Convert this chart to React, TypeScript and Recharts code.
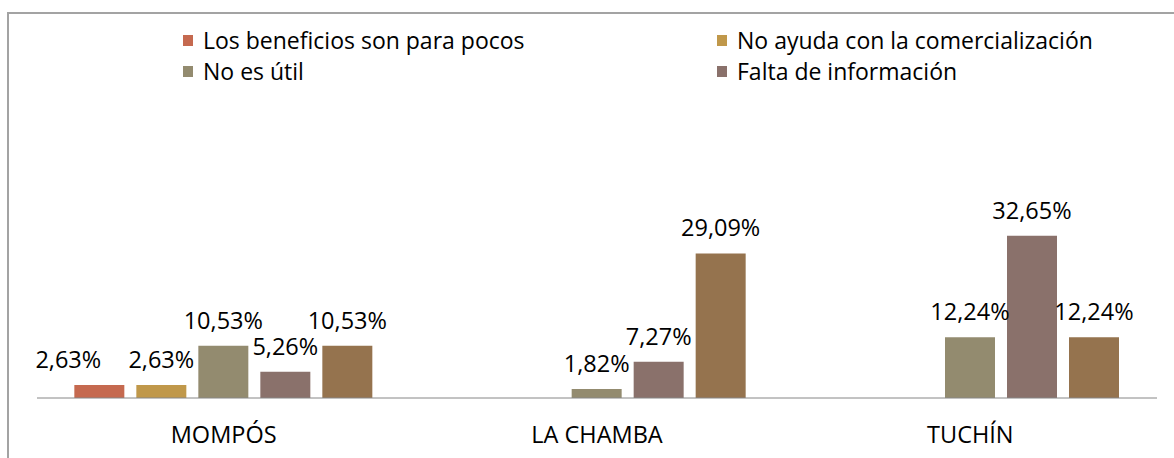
import React from "react";
import { BarChart, Bar, XAxis, YAxis, LabelList } from "recharts";

const categories = ["MOMPÓS", "LA CHAMBA", "TUCHÍN"];
const beneficios = [2.63, null, null];
const comercializacion = [2.63, null, null];
const noUtil = [10.53, 1.82, 12.24];
const faltaInfo = [5.26, 7.27, 32.65];
const otros = [10.53, 29.09, 12.24];

const series = [
  { key: "beneficios", name: "Los beneficios son para pocos", color: "#C5694F", values: beneficios, legend: true },
  { key: "comercializacion", name: "No ayuda con la comercialización", color: "#C0984A", values: comercializacion, legend: true },
  { key: "noUtil", name: "No es útil", color: "#938B6F", values: noUtil, legend: true },
  { key: "faltaInfo", name: "Falta de información", color: "#8A716B", values: faltaInfo, legend: true },
  { key: "otros", name: "Otros", color: "#95734E", values: otros, legend: false },
];

const data = categories.map((cat, i) => {
  const row: any = { name: cat };
  series.forEach((s) => {
    row[s.key] = s.values[i];
  });
  return row;
});

const FONT = "'Open Sans', sans-serif";

const fmt = (v: number) => v.toFixed(2).replace(".", ",") + "%";

// the first label is nudged left in the original so it doesn't collide
const makeLabel = (dx: number) => (props: any) => {
  const { x, y, width, value } = props;
  if (value === null || value === undefined) return null;
  return (
    <text
      x={x + width / 2 + dx}
      y={y - 26}
      textAnchor="middle"
      dominantBaseline="central"
      fontFamily={FONT}
      fontSize={23.5}
      fill="#000"
    >
      {fmt(value)}
    </text>
  );
};

const CategoryTick = ({ x, y, payload }: any) => (
  <text
    x={x}
    y={y + 36}
    textAnchor="middle"
    dominantBaseline="central"
    fontFamily={FONT}
    fontSize={23.5}
    fill="#000"
  >
    {payload.value}
  </text>
);

// legend: two columns, two rows (the last series is not listed)
const legendCols = [183, 717];
const legendRows = [40, 71];

const App = () => {
  const legendItems = series.filter((s) => s.legend);
  return (
    <div
      style={{
        position: "absolute",
        left: 0,
        top: 0,
        width: 1174,
        height: 458,
        overflow: "hidden",
        background: "#fff",
      }}
    >
      <div
        style={{
          position: "absolute",
          left: 7,
          top: 12,
          width: 1200,
          height: 500,
          borderLeft: "2px solid #a3a3a3",
          borderTop: "2px solid #a3a3a3",
        }}
      />
      {legendItems.map((s, i) => (
        <div
          key={s.key}
          style={{
            position: "absolute",
            left: legendCols[i % 2],
            top: legendRows[Math.floor(i / 2)] - 15,
            height: 30,
            display: "flex",
            alignItems: "center",
            fontFamily: FONT,
            fontSize: 23,
            color: "#000",
            whiteSpace: "nowrap",
          }}
        >
          <span
            style={{
              display: "inline-block",
              width: 10,
              height: 11,
              background: s.color,
              marginRight: 10,
            }}
          />
          <span>{s.name}</span>
        </div>
      ))}
      <div style={{ position: "absolute", left: 0, top: 0 }}>
        <BarChart
          width={1174}
          height={458}
          data={data}
          margin={{ top: 224, right: 17, bottom: 0, left: 37 }}
          barCategoryGap="10%"
          barGap={12}
        >
          <XAxis
            dataKey="name"
            height={60}
            tickLine={false}
            tickSize={0}
            tickMargin={0}
            axisLine={{ stroke: "#868686", strokeWidth: 1 }}
            tick={<CategoryTick />}
            interval={0}
          />
          <YAxis hide domain={[0, 35]} />
          {series.map((s, i) => (
            <Bar
              key={s.key}
              dataKey={s.key}
              name={s.name}
              fill={s.color}
              legendType={s.legend ? "rect" : "none"}
              isAnimationActive={false}
            >
              <LabelList dataKey={s.key} content={makeLabel(i === 0 ? -31 : 0)} />
            </Bar>
          ))}
        </BarChart>
      </div>
    </div>
  );
};

export default App;
